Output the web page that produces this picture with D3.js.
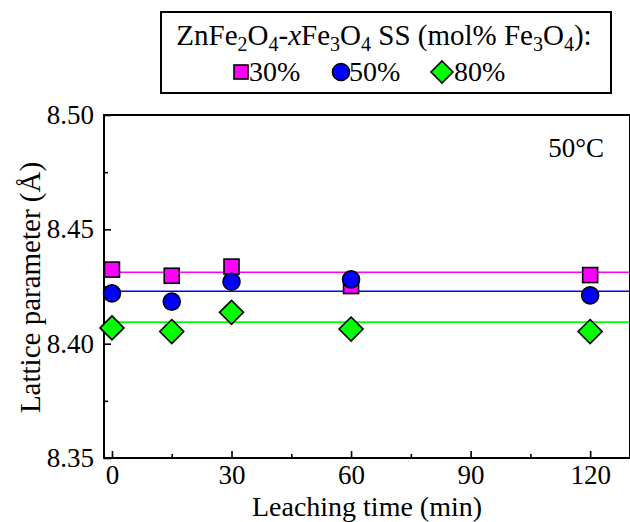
<!DOCTYPE html>
<html><head><meta charset="utf-8">
<script src="https://cdn.jsdelivr.net/npm/d3@7"></script>
<style>body{margin:0;background:#fff}svg{display:block}</style>
</head><body><svg id="c" width="630" height="522"></svg>
<script>
const times = [0, 15, 30, 60, 120];
const series30 = [8.4324, 8.4297, 8.4337, 8.4252, 8.4300];
const series50 = [8.4220, 8.4184, 8.4271, 8.4281, 8.4211];
const series80 = [8.4069, 8.4053, 8.4137, 8.4064, 8.4053];
const meanValues = [8.4312, 8.4229, 8.4094];
const seriesLabels = ["30%", "50%", "80%"];
const seriesColors = ["#ff00ff", "#0000ff", "#00ff00"];
const xTicks = [0, 30, 60, 90, 120];
const xMinor = [15, 45, 75, 105];
const yTicks = [8.35, 8.40, 8.45, 8.50];
const yMinor = [8.375, 8.425, 8.475];

const SERIF = "'Liberation Serif', 'Times New Roman', Times, serif";
const svg = d3.select("#c");
const L = 104, R = 630, T = 115, B = 458;
const x = d3.scaleLinear().domain([-2, 130]).range([L, R]);
const y = d3.scaleLinear().domain([8.35, 8.50]).range([B, T]);
const FS = 27;

// lines
meanValues.forEach((v, i) => {
  svg.append("line").attr("x1", L).attr("x2", R).attr("y1", y(v)).attr("y2", y(v))
    .attr("stroke", seriesColors[i]).attr("stroke-width", 1.6);
});

// axes
const gx = svg.append("g").attr("transform", `translate(0,${B})`)
  .call(d3.axisBottom(x).tickValues(xTicks).tickSize(-7).tickPadding(7).tickFormat(d3.format("d")));
const gxm = svg.append("g").attr("transform", `translate(0,${B})`)
  .call(d3.axisBottom(x).tickValues(xMinor).tickSize(-4).tickFormat(""));
const gy = svg.append("g").attr("transform", `translate(${L},0)`)
  .call(d3.axisLeft(y).tickValues(yTicks).tickSize(-7).tickPadding(10).tickFormat(d3.format(".2f")));
const gym = svg.append("g").attr("transform", `translate(${L},0)`)
  .call(d3.axisLeft(y).tickValues(yMinor).tickSize(-4).tickFormat(""));
[gx, gxm, gy, gym].forEach(g => {
  g.attr("font-family", null).attr("font-size", null);
  g.select(".domain").remove();
  g.selectAll(".tick line").attr("stroke", "#000").attr("stroke-width", 1.6);
  g.selectAll("text").attr("font-size", FS).attr("fill", "#000");
});
svg.append("rect").attr("x", L).attr("y", T).attr("width", R - L).attr("height", B - T)
  .attr("fill", "none").attr("stroke", "#000").attr("stroke-width", 2);

// markers
const sq = 15, cr = 8.5, dm = 12;
svg.append("g").selectAll("rect").data(times).join("rect")
  .attr("x", (d) => x(d) - sq / 2).attr("y", (d, i) => y(series30[i]) - sq / 2)
  .attr("width", sq).attr("height", sq).attr("fill", seriesColors[0]).attr("stroke", "#000").attr("stroke-width", 1.6);
svg.append("g").selectAll("circle").data(times).join("circle")
  .attr("cx", (d) => x(d)).attr("cy", (d, i) => y(series50[i])).attr("r", cr)
  .attr("fill", seriesColors[1]).attr("stroke", "#000").attr("stroke-width", 1.6);
const diamond = (cx, cy) => `M${cx},${cy - dm}L${cx + dm},${cy}L${cx},${cy + dm}L${cx - dm},${cy}Z`;
svg.append("g").selectAll("path").data(times).join("path")
  .attr("d", (d, i) => diamond(x(d), y(series80[i])))
  .attr("fill", seriesColors[2]).attr("stroke", "#000").attr("stroke-width", 1.6);

// axis titles
svg.append("text").attr("x", (L + R) / 2).attr("y", 516).attr("text-anchor", "middle")
  .attr("font-size", 28).text("Leaching time (min)");
svg.append("text").attr("transform", `translate(40,${(T + B) / 2 + 1}) rotate(-90)`).attr("text-anchor", "middle")
  .attr("font-size", 29).text("Lattice parameter (Å)");
svg.append("text").attr("x", 604).attr("y", 157).attr("text-anchor", "end").attr("font-size", FS).text("50°C");

// legend
svg.append("rect").attr("x", 161).attr("y", 12).attr("width", 450).attr("height", 81)
  .attr("fill", "#fff").attr("stroke", "#000").attr("stroke-width", 2);
const t = svg.append("text").attr("x", 384).attr("y", 45).attr("text-anchor", "middle").attr("font-size", 29);
const parts = [["ZnFe", 0], ["2", 1], ["O", 0], ["4", 1], ["-", 0], ["x", 2], ["Fe", 0], ["3", 1], ["O", 0], ["4", 1], [" SS (mol% Fe", 0], ["3", 1], ["O", 0], ["4", 1], ["):", 0]];
let prevSub = false;
parts.forEach(([s, k]) => {
  const sp = t.append("tspan").text(s);
  if (k === 1) { sp.attr("font-size", 20).attr("dy", prevSub ? 0 : 6); prevSub = true; }
  else { if (prevSub) sp.attr("dy", -6); prevSub = false; if (k === 2) sp.attr("font-style", "italic"); }
});
const legX = [241, 341, 442];
const legY = 72;
svg.append("rect").attr("x", legX[0] - 7).attr("y", legY - 7).attr("width", 14).attr("height", 14)
  .attr("fill", seriesColors[0]).attr("stroke", "#000").attr("stroke-width", 1.6);
svg.append("circle").attr("cx", legX[1]).attr("cy", legY).attr("r", 8.5)
  .attr("fill", seriesColors[1]).attr("stroke", "#000").attr("stroke-width", 1.6);
svg.append("path").attr("d", `M${legX[2]},${legY - 11}L${legX[2] + 11},${legY}L${legX[2]},${legY + 11}L${legX[2] - 11},${legY}Z`)
  .attr("fill", seriesColors[2]).attr("stroke", "#000").attr("stroke-width", 1.6);
seriesLabels.forEach((s, i) => {
  svg.append("text").attr("x", legX[i] + 8 + (i === 2 ? 4 : 0)).attr("y", 81).attr("font-size", 28).text(s);
});
svg.selectAll("text").style("font-family", SERIF).attr("fill", "#000");
</script></body></html>
